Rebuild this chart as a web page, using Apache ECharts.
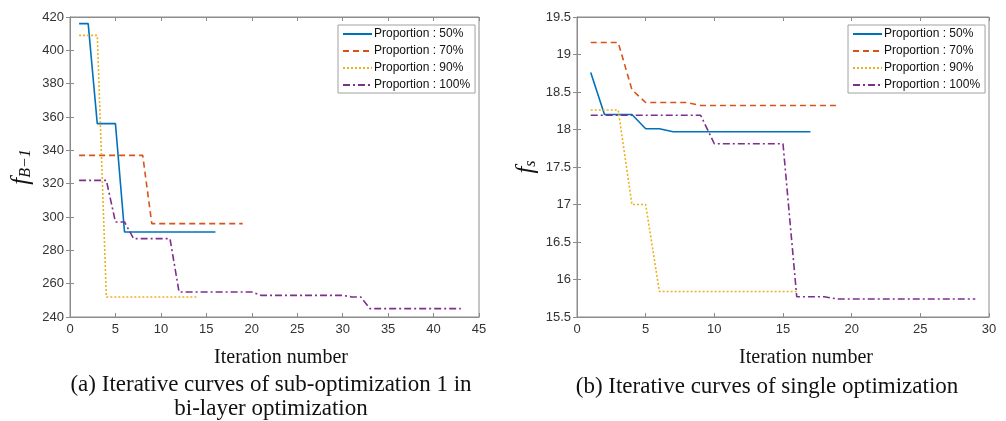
<!DOCTYPE html>
<html>
<head>
<meta charset="utf-8">
<script src="https://cdn.jsdelivr.net/npm/echarts@6/dist/echarts.min.js"></script>
<style>
  html, body { margin: 0; padding: 0; background: #fff; }
  #main { width: 1006px; height: 421px; }
</style>
</head>
<body>
<div id="main"></div>
<script>
// series names
const names = ['Proportion : 50%', 'Proportion : 70%', 'Proportion : 90%', 'Proportion : 100%'];

// (a) sub-optimization 1, values per iteration (starting at 1)
const a50 = [416, 416, 356, 356, 356, 291, 291, 291, 291, 291, 291, 291, 291, 291, 291, 291];
const a70 = [337, 337, 337, 337, 337, 337, 337, 337, 296, 296, 296, 296, 296, 296, 296, 296, 296, 296, 296];
const a90 = [409, 409, 409, 252, 252, 252, 252, 252, 252, 252, 252, 252, 252, 252];
const a100 = [322, 322, 322, 322, 297, 297, 287, 287, 287, 287, 287, 255, 255, 255, 255, 255, 255, 255, 255, 255,
  253, 253, 253, 253, 253, 253, 253, 253, 253, 253, 252, 252, 245, 245, 245, 245, 245, 245, 245, 245, 245, 245, 245];

// (b) single optimization
const b50 = [18.76, 18.2, 18.2, 18.2, 18.01, 18.01, 17.97, 17.97, 17.97, 17.97, 17.97, 17.97, 17.97, 17.97, 17.97, 17.97, 17.97];
const b70 = [19.16, 19.16, 19.16, 18.53, 18.36, 18.36, 18.36, 18.36, 18.32, 18.32, 18.32, 18.32, 18.32, 18.32, 18.32, 18.32, 18.32, 18.32, 18.32];
const b90 = [18.26, 18.26, 18.26, 17.0, 17.0, 15.84, 15.84, 15.84, 15.84, 15.84, 15.84, 15.84, 15.84, 15.84, 15.84, 15.84];
const b100 = [18.19, 18.19, 18.19, 18.19, 18.19, 18.19, 18.19, 18.19, 18.19, 17.81, 17.81, 17.81, 17.81, 17.81, 17.81,
  15.77, 15.77, 15.77, 15.74, 15.74, 15.74, 15.74, 15.74, 15.74, 15.74, 15.74, 15.74, 15.74, 15.74];

// colours and line styles (MATLAB defaults)
const colors = ['#0072BD', '#D95319', '#EDB120', '#7E2F8E'];
const dashes = ['solid', [6, 4], [2, 2], [7, 3, 2, 3]];

const axisColor = '#8c8c8c';
const labelColor = '#333';
const sans = 'Liberation Sans';
const serif = 'Liberation Serif';

function pts(arr) {
  return arr.map((v, i) => [i + 1, v]);
}

function mkSeries(arrs, gi) {
  return arrs.map((arr, k) => ({
    name: names[k],
    type: 'line',
    xAxisIndex: gi * 2,
    yAxisIndex: gi * 2,
    data: pts(arr),
    symbol: 'none',
    animation: false,
    lineStyle: { color: colors[k], width: 1.6, type: dashes[k] },
    itemStyle: { color: colors[k] }
  }));
}

function xAxes(gi, max) {
  const base = {
    gridIndex: gi, type: 'value', min: 0, max: max, interval: 5,
    axisLine: { show: true, lineStyle: { color: axisColor } },
    axisTick: { show: true, inside: true, length: 4, lineStyle: { color: axisColor } },
    splitLine: { show: false }
  };
  return [
    Object.assign({}, base, {
      position: 'bottom',
      axisLabel: { color: labelColor, fontFamily: sans, fontSize: 13, margin: 6 }
    }),
    Object.assign({}, base, { position: 'top', axisLabel: { show: false } })
  ];
}

function yAxes(gi, min, max, interval, name, gap) {
  const base = {
    gridIndex: gi, type: 'value', min: min, max: max, interval: interval,
    axisLine: { show: true, lineStyle: { color: axisColor } },
    axisTick: { show: true, inside: true, length: 4, lineStyle: { color: axisColor } },
    splitLine: { show: false }
  };
  return [
    Object.assign({}, base, {
      position: 'left',
      axisLabel: { color: labelColor, fontFamily: sans, fontSize: 13, margin: 6 },
      name: name, nameLocation: 'middle', nameGap: gap,
      nameTextStyle: {
        rich: {
          f: { fontFamily: serif, fontStyle: 'italic', fontSize: 25, color: '#111' },
          sub: { fontFamily: serif, fontStyle: 'italic', fontSize: 16, color: '#111', padding: [10, 0, 0, 0] }
        }
      }
    }),
    Object.assign({}, base, { position: 'right', axisLabel: { show: false } })
  ];
}

function legend(left) {
  return {
    data: names,
    left: left, top: 25,
    orient: 'vertical',
    itemWidth: 29, itemHeight: 10, itemGap: 5,
    padding: [3, 5, 2, 4],
    borderColor: '#a0a0a0', borderWidth: 1,
    backgroundColor: '#fff',
    itemStyle: { opacity: 0 },
    textStyle: { fontFamily: sans, fontSize: 12, color: '#111', padding: [0, 0, 0, -3] }
  };
}

function label(x, y, text, size) {
  return {
    type: 'text', x: x, y: y,
    style: { text: text, font: size + 'px "Liberation Serif"', fill: '#111', align: 'center', verticalAlign: 'middle' }
  };
}

const chart = echarts.init(document.getElementById('main'));
chart.setOption({
  animation: false,
  backgroundColor: '#fff',
  grid: [
    { left: 70, top: 17, width: 409, height: 300, show: true, borderColor: axisColor, borderWidth: 1 },
    { left: 577, top: 17, width: 412, height: 300, show: true, borderColor: axisColor, borderWidth: 1 }
  ],
  xAxis: [].concat(xAxes(0, 45), xAxes(1, 30)),
  yAxis: [].concat(
    yAxes(0, 240, 420, 20, '{f|f}{sub|B\u22121}', 36),
    yAxes(1, 15.5, 19.5, 0.5, '{f|f}{sub|s}', 38)
  ),
  legend: [legend(338), legend(848)],
  series: [].concat(mkSeries([a50, a70, a90, a100], 0), mkSeries([b50, b70, b90, b100], 1)),
  graphic: [
    label(281, 358, 'Iteration number', 20),
    label(806, 358, 'Iteration number', 20),
    label(271, 385, '(a) Iterative curves of sub-optimization 1 in', 23),
    label(271, 409, 'bi-layer optimization', 23),
    label(767, 387, '(b) Iterative curves of single optimization', 23)
  ]
});
</script>
</body>
</html>
